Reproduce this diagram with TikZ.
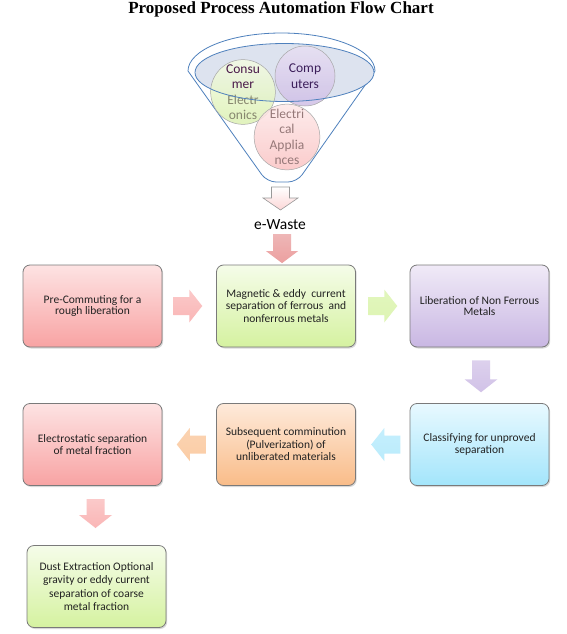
\documentclass[tikz,border=0pt]{standalone}
\usepackage{fontspec}
\setmainfont{Carlito}
\newfontfamily\titlefont{Liberation Serif}
\usetikzlibrary{calc,shadows}
\definecolor{redtop}{HTML}{FDE3E3}\definecolor{redbot}{HTML}{F8A3A3}
\definecolor{greentop}{HTML}{F5FCE9}\definecolor{greenbot}{HTML}{D5F2A0}
\definecolor{purptop}{HTML}{F0EAF7}\definecolor{purpbot}{HTML}{C9B7E3}
\definecolor{bluetop}{HTML}{E8F9FF}\definecolor{bluebot}{HTML}{A3E5FB}
\definecolor{orgtop}{HTML}{FEEADB}\definecolor{orgbot}{HTML}{F9BC88}
\definecolor{funnelblue}{HTML}{4F81BD}
\definecolor{rimfill}{HTML}{DDE3EF}
\definecolor{boxline}{HTML}{7A7A7A}
\definecolor{txt}{HTML}{222222}
\definecolor{ctxtA}{HTML}{4A1A4A}
\definecolor{ctxtB}{HTML}{86866E}
\definecolor{ctxtC}{HTML}{3C1E5A}
\definecolor{ctxtD}{HTML}{957878}
\definecolor{cetop}{HTML}{F4FBE4}
\definecolor{cebot}{HTML}{DCF1B2}
\tikzset{
  box/.style={draw=boxline, line width=0.8pt, rounded corners=7pt,
    minimum width=139pt, minimum height=82pt, align=center, text=txt,
    font=\fontsize{11.5}{11.6}\selectfont,
    drop shadow={opacity=0.3, shadow xshift=1.2pt, shadow yshift=-1.5pt}},
  three/.style={font=\fontsize{11.5}{12.5}\selectfont},
  four/.style={font=\fontsize{11.5}{13.1}\selectfont},
  redbox/.style={box, top color=redtop, bottom color=redbot},
  greenbox/.style={box, top color=greentop, bottom color=greenbot},
  purpbox/.style={box, top color=purptop, bottom color=purpbot},
  bluebox/.style={box, top color=bluetop, bottom color=bluebot},
  orgbox/.style={box, top color=orgtop, bottom color=orgbot},
  bubble/.style={circle, draw=gray!70, line width=0.5pt, minimum size=60pt,
    inner sep=0pt, align=center, fill opacity=0.85, text opacity=1,
    font=\fontsize{13.5}{15.5}\selectfont},
  funnelline/.style={draw=funnelblue, line width=0.8pt},
  arrpink/.style={top color=redtop!60!redbot, bottom color=redbot!80!white},
  arrgreen/.style={top color=greentop!40!greenbot, bottom color=greenbot!80!white},
  arrpurp/.style={top color=purptop!50!purpbot, bottom color=purpbot!85!white},
  arrblue/.style={top color=bluetop!50!bluebot, bottom color=bluebot!75!white},
  arrorg/.style={top color=orgtop!50!orgbot, bottom color=orgbot!75!white},
  arrewaste/.style={top color=redtop!40!redbot!90!gray, bottom color=redbot!90!gray},
  arrfunnel/.style={draw=gray!80, line width=0.6pt, top color=white, bottom color=redtop!80!redbot},
  pics/blk/.style args={#1/#2/#3/#4/#5}{code={
    \path[#5] (-#1/2,-#3/2) -- (#1/2-#4,-#3/2) -- (#1/2-#4,-#2/2) -- (#1/2,0)
      -- (#1/2-#4,#2/2) -- (#1/2-#4,#3/2) -- (-#1/2,#3/2) -- cycle;}}
}
\begin{document}
\begin{tikzpicture}[x=1pt,y=-1pt]
\useasboundingbox[fill=white] (0,0) rectangle (567,634);

\node[font=\titlefont\bfseries\fontsize{17}{20}\selectfont, anchor=base] (title) at (281,14) {Proposed Process Automation Flow Chart};

% funnel
\draw[funnelline] (188,71) arc[start angle=180, end angle=360, x radius=93.5, y radius=38]
  [rounded corners=9pt] -- (297,182) -- (267,182) -- (188,71);
\path[fill=rimfill] (284.5,72.5) ellipse[x radius=89.5, y radius=29];
\node[bubble, top color=cetop, bottom color=cebot] (ce) at (243,92)
  {\color{ctxtA}Consu\\\color{ctxtA}mer\\\color{ctxtB}Electr\\\color{ctxtB}onics};
\node[bubble, top color=purptop!80!purpbot, bottom color=purpbot!90!white] (co) at (305,76)
  {\color{ctxtC}Comp\\\color{ctxtC}uters};
\node[bubble, top color=redtop!80!white, bottom color=redbot!65!white] (ea) at (287,137)
  {\color{ctxtD}Electri\\\color{ctxtD}cal\\\color{ctxtD}Applia\\\color{ctxtD}nces};
\draw[funnelline] (284.5,72.5) ellipse[x radius=89.5, y radius=29];
\coordinate (fb) at (281.5,183);

\node[font=\fontsize{15.5}{18}\selectfont, anchor=base] (ew) at (280,229) {e-Waste};
\pic at (280.5,198.5) [rotate=-90] {blk=23/35/18/12/arrfunnel};

% boxes
\node[redbox] (b1) at (92.5,306) {Pre-Commuting for a\\rough liberation};
\node[greenbox, three] (b2) at (286,306) {Magnetic \& eddy\ \ current\\separation of ferrous\ \ and\\nonferrous metals};
\node[purpbox] (b3) at (479.5,306) {Liberation of Non Ferrous\\Metals};
\node[bluebox] (b4) at (479.5,444.5) {Classifying for unproved\\separation};
\node[orgbox, three] (b5) at (286,444.5) {Subsequent comminution\\(Pulverization) of\\unliberated materials};
\node[redbox] (b6) at (92.5,444.5) {Electrostatic separation\\of metal fraction};
\node[greenbox, four] (b7) at (96.5,586.5) {Dust Extraction Optional\\gravity or eddy current\\separation of coarse\\metal fraction};

% block arrows
\pic at ($(ew.south)!0.5!(b2.north)+(-1,0)$) [rotate=-90] {blk=29/32/18/12/arrewaste};
\pic at ($(b1.east)!0.5!(b2.west)+(-1.5,0)$) {blk=29/33/18/13/arrpink};
\pic at ($(b2.east)!0.5!(b3.west)$) {blk=29/33/18/13/arrgreen};
\pic at ($(b3.south)!0.5!(b4.north)+(1.5,1)$) [rotate=-90] {blk=32/33/18/13/arrpurp};
\pic at ($(b4.west)!0.5!(b5.east)+(3,0)$) [rotate=180] {blk=29/33/18/13/arrblue};
\pic at ($(b5.west)!0.5!(b6.east)+(2,0)$) [rotate=180] {blk=29/33/18/13/arrorg};
\pic at ($(b6.south)!0.5!(b7.north)+(1,-2)$) [rotate=-90] {blk=29/33/18/13/arrpink};
\end{tikzpicture}
\end{document}
